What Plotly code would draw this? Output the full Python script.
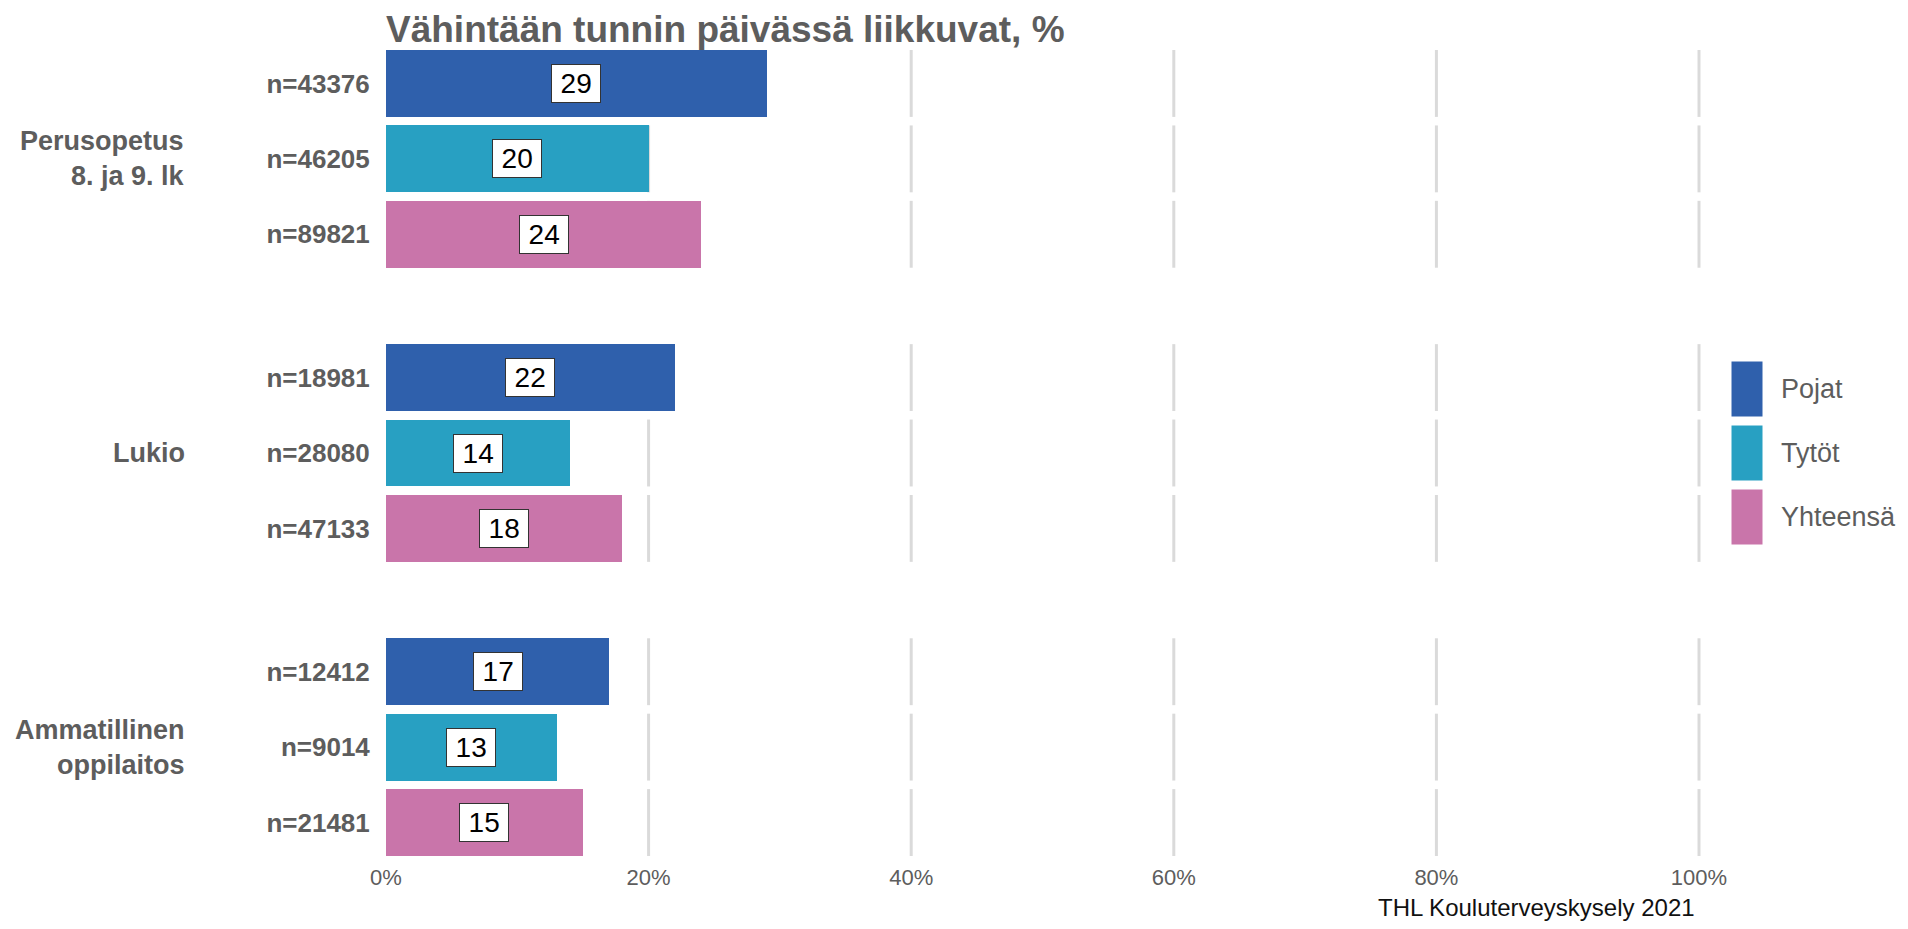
import plotly.graph_objects as go

# data
groups = ["Perusopetus<br>8. ja 9. lk", "Lukio", "Ammatillinen<br>oppilaitos"]
sexes = ["Pojat", "Tytöt", "Yhteensä"]
pct = {
    "Pojat": [29, 22, 17],
    "Tytöt": [20, 14, 13],
    "Yhteensä": [24, 18, 15],
}
n_obs = {
    "Pojat": [43376, 18981, 12412],
    "Tytöt": [46205, 28080, 9014],
    "Yhteensä": [89821, 47133, 21481],
}
colors = {"Pojat": "#2f60ac", "Tytöt": "#28a0c2", "Yhteensä": "#c975aa"}
x_ticks = [0, 20, 40, 60, 80, 100]

title = "Vähintään tunnin päivässä liikkuvat, %"
caption = "THL Kouluterveyskysely 2021"

FONT = "Liberation Sans, Arial, sans-serif"
GREY = "#5d5d5d"

# the page body has an 8px margin, so work in page pixels and shift
OFF = 8
W, H = 1908 - 2 * OFF, 929 - 2 * OFF
L, R, T, B = 386 - OFF, 1712 - OFF, 50 - OFF, 856 - OFF
GROUP_STEP = 3.9
BAR_W = 0.887


def px_x(px):
    return (px - OFF - L) / (R - L)


def px_y(py):
    return (B - (py - OFF)) / (B - T)


def ypos(g, i):
    return g * GROUP_STEP + i


fig = go.Figure()

tickvals, ticktext = [], []
for i, s in enumerate(sexes):
    ys = [ypos(g, i) for g in range(len(groups))]
    fig.add_trace(go.Bar(
        x=pct[s], y=ys, orientation="h", width=BAR_W,
        marker=dict(color=colors[s], line=dict(width=0)),
        name=s, showlegend=False,
    ))
    for g in range(len(groups)):
        tickvals.append(ys[g])
        ticktext.append(f"n={n_obs[s][g]}")
        # value label in a white box at the middle of the bar
        fig.add_annotation(
            x=pct[s][g] / 2, y=ys[g], xref="x", yref="y",
            text="\u2009" + str(pct[s][g]) + "\u2009", showarrow=False,
            font=dict(family=FONT, size=28, color="black"),
            bgcolor="white", bordercolor="#333333", borderwidth=1, borderpad=3,
        )

# broken grid lines, one segment per bar row
shapes = []
for g in range(len(groups)):
    for i in range(len(sexes)):
        yc = ypos(g, i)
        for xv in x_ticks[1:]:
            shapes.append(dict(
                type="line", xref="x", yref="y", x0=xv, x1=xv,
                y0=yc - BAR_W / 2, y1=yc + BAR_W / 2,
                line=dict(color="#dadada", width=3), layer="below",
            ))

# group labels on the left
for g, lab in enumerate(groups):
    fig.add_annotation(
        x=px_x(187), y=ypos(g, 1), xref="paper", yref="y",
        text=lab, showarrow=False, xanchor="right", align="right",
        font=dict(family=FONT, size=27, color=GREY, weight="bold"),
    )

# legend drawn by hand to get the large keys
for k, s in enumerate(sexes):
    top = 361 + k * 64
    shapes.append(dict(
        type="rect", xref="paper", yref="paper",
        x0=px_x(1731), x1=px_x(1763), y0=px_y(top + 56), y1=px_y(top),
        fillcolor=colors[s], line=dict(color="white", width=1),
    ))
    fig.add_annotation(
        x=px_x(1779), y=px_y(top + 28), xref="paper", yref="paper",
        text=s, showarrow=False, xanchor="left", yanchor="middle",
        font=dict(family=FONT, size=27, color=GREY),
    )

fig.add_annotation(
    x=px_x(1697), y=px_y(907), xref="paper", yref="paper",
    text=caption, showarrow=False, xanchor="right", yanchor="middle",
    font=dict(family=FONT, size=24, color="#111111"),
)

fig.update_layout(
    width=W, height=H,
    margin=dict(l=L, r=W - R, t=T, b=H - B, pad=0),
    paper_bgcolor="white", plot_bgcolor="white",
    bargap=0,
    shapes=shapes,
    title=dict(
        text=title, x=(386 - OFF) / W, xref="container",
        xanchor="left", y=1 - (29 - OFF) / H, yanchor="middle",
        font=dict(family=FONT, size=37, color=GREY, weight="bold"),
    ),
    xaxis=dict(
        range=[0, (R - L) / 13.13], tickvals=x_ticks,
        ticktext=[f"{v}%" for v in x_ticks],
        showgrid=False, zeroline=False, showline=False,
        ticks="outside", ticklen=2, tickcolor="rgba(0,0,0,0)",
        tickfont=dict(family=FONT, size=22, color=GREY),
    ),
    yaxis=dict(
        range=[ypos(2, 2) + BAR_W / 2, -BAR_W / 2],
        tickvals=tickvals, ticktext=ticktext,
        showgrid=False, zeroline=False, showline=False,
        ticks="outside", ticklen=10, tickcolor="rgba(0,0,0,0)",
        tickfont=dict(family=FONT, size=26, color=GREY, weight="bold"),
    ),
)

fig.write_html("out.html")
